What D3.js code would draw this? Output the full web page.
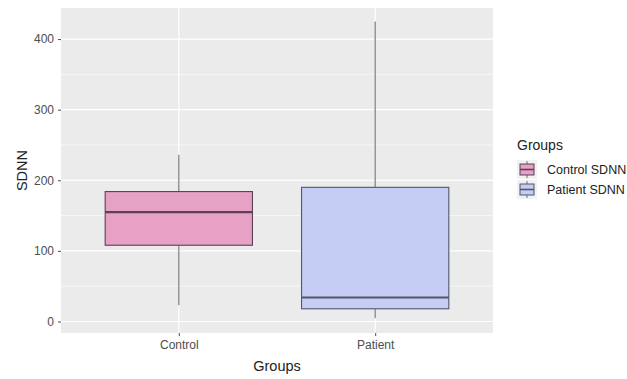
<!DOCTYPE html>
<html>
<head>
<meta charset="utf-8">
<script src="https://cdn.jsdelivr.net/npm/d3@7"></script>
<style>
  html, body { margin: 0; padding: 0; background: #fff; overflow: hidden; }
  svg { display: block; font-family: "Liberation Sans", Arial, sans-serif; }
</style>
</head>
<body>
<svg id="chart" width="627" height="379"></svg>
<script>
// Box plot summaries of SDNN for each group
const groups = ["Control", "Patient"];
const legendLabels = ["Control SDNN", "Patient SDNN"];
const whiskerLow = [23, 4.5];
const q1 = [108, 18];
const median = [155, 34];
const q3 = [184, 190];
const whiskerHigh = [236, 425];
const fills = ["#E6A1C5", "#C6CDF5"];
const strokes = ["#5b4152", "#50566b"];
const yTicks = [0, 100, 200, 300, 400];
const yMinor = [50, 150, 250, 350];

const svg = d3.select("#chart");
const panel = { left: 61, top: 8, right: 493, bottom: 333 };

const y = d3.scaleLinear().domain([-16.3, 444]).range([panel.bottom, panel.top]);
const x = d3.scalePoint().domain(groups)
  .range([panel.left, panel.right])
  .padding(0.6);
const cx = g => x(g);
const boxW = x.step() * 0.75;

// panel background
svg.append("rect")
  .attr("x", panel.left).attr("y", panel.top)
  .attr("width", panel.right - panel.left).attr("height", panel.bottom - panel.top)
  .attr("fill", "#EBEBEB");

// grid lines
svg.append("g").selectAll("line").data(yMinor).join("line")
  .attr("x1", panel.left).attr("x2", panel.right)
  .attr("y1", d => y(d)).attr("y2", d => y(d))
  .attr("stroke", "#fff").attr("stroke-width", 0.6);
svg.append("g").selectAll("line").data(yTicks).join("line")
  .attr("x1", panel.left).attr("x2", panel.right)
  .attr("y1", d => y(d)).attr("y2", d => y(d))
  .attr("stroke", "#fff").attr("stroke-width", 1.2);
svg.append("g").selectAll("line").data(groups).join("line")
  .attr("x1", d => cx(d)).attr("x2", d => cx(d))
  .attr("y1", panel.top).attr("y2", panel.bottom)
  .attr("stroke", "#fff").attr("stroke-width", 1.2);

// axes
const yAxis = d3.axisLeft(y).tickValues(yTicks).tickSize(3).tickPadding(4);
const gy = svg.append("g").attr("transform", `translate(${panel.left},0)`).call(yAxis);
gy.select(".domain").remove();
gy.selectAll(".tick line").attr("stroke", "#4d4d4d");
gy.selectAll(".tick text").attr("fill", "#4d4d4d").style("font-size", "12px");

const xAxis = d3.axisBottom(x).tickSize(3).tickPadding(4);
const gx = svg.append("g").attr("transform", `translate(0,${panel.bottom})`).call(xAxis);
gx.select(".domain").remove();
gx.selectAll(".tick line").attr("stroke", "#4d4d4d");
gx.selectAll(".tick text").attr("fill", "#4d4d4d").style("font-size", "12px");

// axis titles
svg.append("text").attr("x", (panel.left + panel.right) / 2).attr("y", 371)
  .attr("text-anchor", "middle").style("font-size", "14.5px").attr("fill", "#222")
  .text("Groups");
svg.append("text")
  .attr("transform", `translate(27,${(panel.top + panel.bottom) / 2}) rotate(-90)`)
  .attr("text-anchor", "middle").style("font-size", "14.5px").attr("fill", "#222")
  .text("SDNN");

// boxes
const boxes = svg.append("g").selectAll("g").data(groups).join("g");
boxes.append("line")
  .attr("x1", d => cx(d)).attr("x2", d => cx(d))
  .attr("y1", (d, i) => y(whiskerHigh[i])).attr("y2", (d, i) => y(q3[i]))
  .attr("stroke", "#707070").attr("stroke-width", 1.1);
boxes.append("line")
  .attr("x1", d => cx(d)).attr("x2", d => cx(d))
  .attr("y1", (d, i) => y(q1[i])).attr("y2", (d, i) => y(whiskerLow[i]))
  .attr("stroke", "#707070").attr("stroke-width", 1.1);
boxes.append("rect")
  .attr("x", d => cx(d) - boxW / 2).attr("width", boxW)
  .attr("y", (d, i) => y(q3[i])).attr("height", (d, i) => y(q1[i]) - y(q3[i]))
  .attr("fill", (d, i) => fills[i]).attr("stroke", (d, i) => strokes[i]).attr("stroke-width", 1.1);
boxes.append("line")
  .attr("x1", d => cx(d) - boxW / 2).attr("x2", d => cx(d) + boxW / 2)
  .attr("y1", (d, i) => y(median[i])).attr("y2", (d, i) => y(median[i]))
  .attr("stroke", (d, i) => strokes[i]).attr("stroke-width", 2.2);

// legend
const legend = svg.append("g").attr("transform", "translate(517,0)");
legend.append("text").attr("x", 0).attr("y", 150).style("font-size", "14px").attr("fill", "#222")
  .text("Groups");
const keys = legend.selectAll("g.key").data(legendLabels).join("g")
  .attr("class", "key")
  .attr("transform", (d, i) => `translate(0,${160 + i * 20})`);
keys.append("rect").attr("width", 20).attr("height", 19).attr("fill", "#F2F2F2");
keys.append("line").attr("x1", 10).attr("x2", 10).attr("y1", 1).attr("y2", 18)
  .attr("stroke", "#707070").attr("stroke-width", 1);
keys.append("rect").attr("x", 3).attr("y", 4).attr("width", 14).attr("height", 11)
  .attr("fill", (d, i) => fills[i]).attr("stroke", (d, i) => strokes[i]).attr("stroke-width", 1);
keys.append("line").attr("x1", 3).attr("x2", 17).attr("y1", 9.5).attr("y2", 9.5)
  .attr("stroke", (d, i) => strokes[i]).attr("stroke-width", 1.6);
keys.append("text").attr("x", 30).attr("y", 14).style("font-size", "12.5px").attr("fill", "#222")
  .text(d => d);
</script>
</body>
</html>
